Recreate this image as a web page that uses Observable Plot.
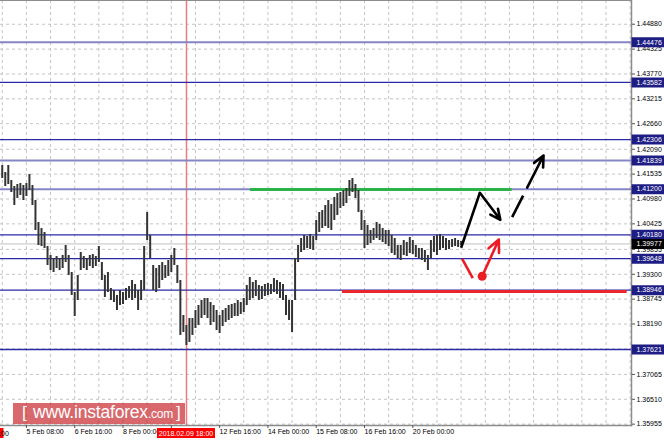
<!DOCTYPE html>
<html>
<head>
<meta charset="utf-8">
<script src="https://cdn.jsdelivr.net/npm/d3@7"></script>
<script src="https://cdn.jsdelivr.net/npm/@observablehq/plot@0.6"></script>
<style>
  html, body { margin: 0; padding: 0; background: #fff; }
  #wrap { position: relative; width: 664px; height: 443px; overflow: hidden; }
  #logo { position: absolute; left: 13px; top: 403px; width: 172px; height: 21px;
          background: rgba(200, 40, 45, 0.7); color: #fff; font-family: "Liberation Sans", Arial, sans-serif;
          white-space: nowrap; line-height: 21px; }
  #logo .b { position: absolute; top: -1px; font-size: 17px; font-weight: 300; }
  #logo .w { position: absolute; left: 20px; top: -1px; font-size: 17.5px; letter-spacing: -0.2px; }
  #logo .c { font-size: 12px; }
</style>
</head>
<body>
<div id="wrap"></div>
<script>
// ---- data ----
const highs = [1.41728,1.41571,1.41728,1.41393,1.41259,1.41304,1.41326,1.41281,1.41326,1.41527,
  1.41281,1.40947,1.40456,1.40322,1.40233,1.39920,1.39719,1.39652,1.39697,1.39652,
  1.39719,1.39942,1.39719,1.39340,1.38893,1.39273,1.39786,1.39697,1.39652,1.39719,
  1.39742,1.39697,1.39920,1.39563,1.39273,1.39340,1.38983,1.38938,1.38827,1.38938,
  1.38893,1.38983,1.39027,1.39161,1.39072,1.38938,1.39161,1.39920,1.40679,1.40166,
  1.39496,1.39429,1.39496,1.39563,1.39496,1.39608,1.39719,1.39875,1.39496,1.39161,
  1.38380,1.38157,1.38313,1.38313,1.38492,1.38603,1.38715,1.38760,1.38760,1.38670,
  1.38603,1.38492,1.38380,1.38492,1.38536,1.38603,1.38626,1.38648,1.38715,1.38670,
  1.38760,1.39050,1.39228,1.39117,1.39161,1.39050,1.39027,1.39072,1.39094,1.39072,
  1.39206,1.39161,1.39117,1.39072,1.38827,1.38715,1.38715,1.39652,1.39942,1.40099,
  1.40166,1.40143,1.40188,1.40143,1.40500,1.40679,1.40723,1.40835,1.40947,1.40857,
  1.41014,1.41103,1.41125,1.41170,1.41214,1.41393,1.41438,1.41304,1.41170,1.40723,
  1.40500,1.40389,1.40277,1.40322,1.40456,1.40411,1.40322,1.40277,1.40277,1.40166,
  1.40099,1.39942,1.39942,1.40054,1.40009,1.40121,1.40054,1.39942,1.39875,1.39875,
  1.39831,1.39719,1.40054,1.40143,1.40166,1.40188,1.40143,1.40099,1.40054,1.40076,
  1.40099,1.40054,1.40032];
const lows = [1.41438,1.41259,1.41304,1.41125,1.40835,1.40991,1.41058,1.40947,1.41036,1.41170,
  1.40835,1.40277,1.39942,1.39920,1.39875,1.39496,1.39384,1.39340,1.39429,1.39384,
  1.39429,1.39563,1.39273,1.38827,1.38358,1.38715,1.39384,1.39429,1.39384,1.39474,
  1.39429,1.39474,1.39563,1.39161,1.38782,1.38893,1.38715,1.38670,1.38492,1.38603,
  1.38626,1.38715,1.38760,1.38715,1.38760,1.38492,1.38715,1.38938,1.40054,1.39652,
  1.38938,1.38893,1.38983,1.39161,1.39206,1.39251,1.39340,1.39496,1.39094,1.37934,
  1.38001,1.37711,1.37778,1.37934,1.38090,1.38157,1.38313,1.38380,1.38313,1.38157,
  1.38224,1.38045,1.37978,1.38135,1.38224,1.38269,1.38313,1.38358,1.38358,1.38403,
  1.38447,1.38603,1.38715,1.38760,1.38804,1.38715,1.38737,1.38804,1.38827,1.38849,
  1.38893,1.38849,1.38760,1.38715,1.38380,1.38269,1.38001,1.38715,1.39563,1.39786,
  1.39831,1.39875,1.39853,1.39831,1.40054,1.40233,1.40322,1.40366,1.40322,1.40277,
  1.40500,1.40612,1.40768,1.40813,1.40880,1.41036,1.41125,1.40991,1.40679,1.40277,
  1.39875,1.39942,1.39987,1.40054,1.40099,1.40054,1.40009,1.39965,1.39920,1.39764,
  1.39719,1.39652,1.39608,1.39719,1.39697,1.39764,1.39742,1.39675,1.39652,1.39608,
  1.39563,1.39384,1.39652,1.39786,1.39719,1.39831,1.39875,1.39831,1.39853,1.39898,
  1.39920,1.39898,1.39942];

const levelPrices = [1.44476, 1.43582, 1.42306, 1.41839, 1.41200, 1.40180, 1.39648, 1.38946, 1.37621];
const levelTones  = ["light", "dark", "dark", "light", "light", "dark", "dark", "dark", "dark"];
const currentPrice = 1.39977;

const yTicks = [1.44880, 1.44325, 1.43770, 1.43215, 1.42660, 1.42090, 1.41535, 1.40980, 1.40425,
  1.39855, 1.39300, 1.38745, 1.38190, 1.37635, 1.37065, 1.36510, 1.35955];

// tick at bar 56 sits under the red crosshair label, so its text is not shown
const xTickBars = [8, 24, 40, 56, 72, 88, 104, 120, 136];
const xTickLabels = ["5 Feb 08:00", "6 Feb 16:00", "8 Feb 00:00", "", "12 Feb 16:00",
  "14 Feb 00:00", "15 Feb 08:00", "16 Feb 16:00", "20 Feb 00:00"];
const gridBars = d3.range(0, 209, 8);

const crossBar = 61.03;
const crossLabel = "2018.02.09 18:00";

const greenLevel = [{price: 1.41192, from: 82.2, to: 168.9}];
const redLevel = [{price: 1.38916, from: 112.7, to: 207.0}];

const blackSegments = [
  {x1: 152.0, y1: 1.39891, x2: 158.2, y2: 1.41118},
  {x1: 168.9, y1: 1.40574, x2: 172.55, y2: 1.41056}
];
const blackArrows = [
  {x1: 158.2, y1: 1.41118, x2: 165.0, y2: 1.40516},
  {x1: 173.88, y1: 1.41235, x2: 179.3, y2: 1.41951}
];
const redSegments = [{x1: 152.35, y1: 1.39646, x2: 155.86, y2: 1.39213}];
const redArrows = [{x1: 158.97, y1: 1.39257, x2: 164.5, y2: 1.40076}];
const redDots = [{x: 158.97, y: 1.39257}];

const xDomain = [-0.58, 208.44];
const yDomain = [1.35925, 1.45410];

// ---- build ----
const bars = highs.map((h, i) => ({i, high: h, low: lows[i]}));
const levels = levelPrices.map((p, i) => ({price: p, tone: levelTones[i]}));
const fmt = d3.format(".5f");
const navy = "#1d1d84";

const chart = Plot.plot({
  width: 664,
  height: 443,
  marginTop: 0,
  marginLeft: 0,
  marginRight: 33,
  marginBottom: 18,
  style: {fontFamily: "Liberation Sans, Arial, sans-serif", fontSize: "7px", background: "#fff", color: "#000"},
  x: {domain: xDomain, axis: null},
  y: {domain: yDomain, axis: null},
  marks: [
    Plot.gridY({ticks: yTicks, stroke: "#c4c4c4", strokeOpacity: 1, strokeDasharray: "3,3"}),
    Plot.gridX({ticks: gridBars, stroke: "#c4c4c4", strokeOpacity: 1, strokeDasharray: "3,3"}),
    Plot.ruleY([currentPrice], {stroke: "#c0c0c0", strokeWidth: 1}),
    Plot.ruleX([crossBar], {stroke: "#f27a7c", strokeWidth: 1.5}),
    Plot.ruleY(levels.filter(d => d.tone === "light"), {y: "price", stroke: "#8585c8", strokeWidth: 2}),
    Plot.ruleY(levels.filter(d => d.tone === "dark"), {y: "price", stroke: "#2a2aa6", strokeWidth: 1.3}),
    Plot.ruleY(greenLevel, {y: "price", x1: "from", x2: "to", stroke: "#2cb24a", strokeWidth: 3}),
    Plot.ruleY(redLevel, {y: "price", x1: "from", x2: "to", stroke: "#e8262c", strokeWidth: 3}),
    Plot.ruleX(bars, {x: "i", y1: "low", y2: "high", stroke: "#333333", strokeWidth: 2}),
    Plot.link(blackSegments, {x1: "x1", y1: "y1", x2: "x2", y2: "y2", stroke: "#000", strokeWidth: 2.6}),
    Plot.arrow(blackArrows, {x1: "x1", y1: "y1", x2: "x2", y2: "y2", stroke: "#000", strokeWidth: 2.6, headLength: 13, headAngle: 50}),
    Plot.link(redSegments, {x1: "x1", y1: "y1", x2: "x2", y2: "y2", stroke: "#ec1c24", strokeWidth: 2.6}),
    Plot.arrow(redArrows, {x1: "x1", y1: "y1", x2: "x2", y2: "y2", stroke: "#ec1c24", strokeWidth: 2.6, headLength: 13, headAngle: 50}),
    Plot.dot(redDots, {x: "x", y: "y", r: 4.5, fill: "#ec1c24", stroke: "none"}),
    Plot.frame({anchor: "top", stroke: "#8c8c8c"}),
    Plot.frame({anchor: "right", stroke: "#8c8c8c", strokeWidth: 1.5}),
    Plot.frame({anchor: "bottom", stroke: "#8c8c8c", strokeWidth: 1.5}),
    Plot.axisY({anchor: "right", ticks: yTicks, tickFormat: fmt, tickSize: 3, tickPadding: 2, fill: "#000", stroke: "#555"}),
    Plot.axisX({anchor: "bottom", ticks: xTickBars, tickFormat: d => xTickLabels[xTickBars.indexOf(d)],
      textAnchor: "start", tickSize: 3, tickPadding: 1, fill: "#000", stroke: "#555"}),
    Plot.ruleY(levels, {y: "price", x1: xDomain[1] + 0.2, x2: xDomain[1] + 12, stroke: navy, strokeWidth: 10}),
    Plot.ruleY([currentPrice], {x1: xDomain[1] + 0.2, x2: xDomain[1] + 12, stroke: "#000", strokeWidth: 10}),
    Plot.text(levels, {x: xDomain[1], y: "price", text: d => fmt(d.price), textAnchor: "start", dx: 5, fill: "#fff"}),
    Plot.text([currentPrice], {x: xDomain[1], y: d => d, text: d => fmt(d), textAnchor: "start", dx: 5, fill: "#fff"})
  ]
});

// crosshair time label and clipped left label, positioned from the x scale
const svg = d3.select(chart);
const xs = chart.scale("x");
const cx = xs.apply(crossBar);
const baseY = 443 - 18;
svg.append("rect").attr("x", cx - 29).attr("y", baseY + 3).attr("width", 58).attr("height", 10).attr("fill", "#ff0000");
svg.append("text").attr("x", cx).attr("y", baseY + 10.5).attr("text-anchor", "middle")
  .attr("fill", "#fff").attr("font-size", 7).text(crossLabel);
const lx = xs.apply(xDomain[0]);
svg.append("rect").attr("x", lx).attr("y", baseY + 3).attr("width", 3.5).attr("height", 10).attr("fill", "#ff0000");
svg.append("text").attr("x", lx + 4).attr("y", baseY + 10.5).attr("fill", "#000").attr("font-size", 7).text(":00");

const wrap = document.getElementById("wrap");
wrap.appendChild(chart);
const logo = document.createElement("div");
logo.id = "logo";
logo.innerHTML = '<span class="b" style="left:9px">[</span><span class="w">www.instaforex<span class="c">.com</span></span><span class="b" style="left:163px">]</span>';
wrap.appendChild(logo);
</script>
</body>
</html>
